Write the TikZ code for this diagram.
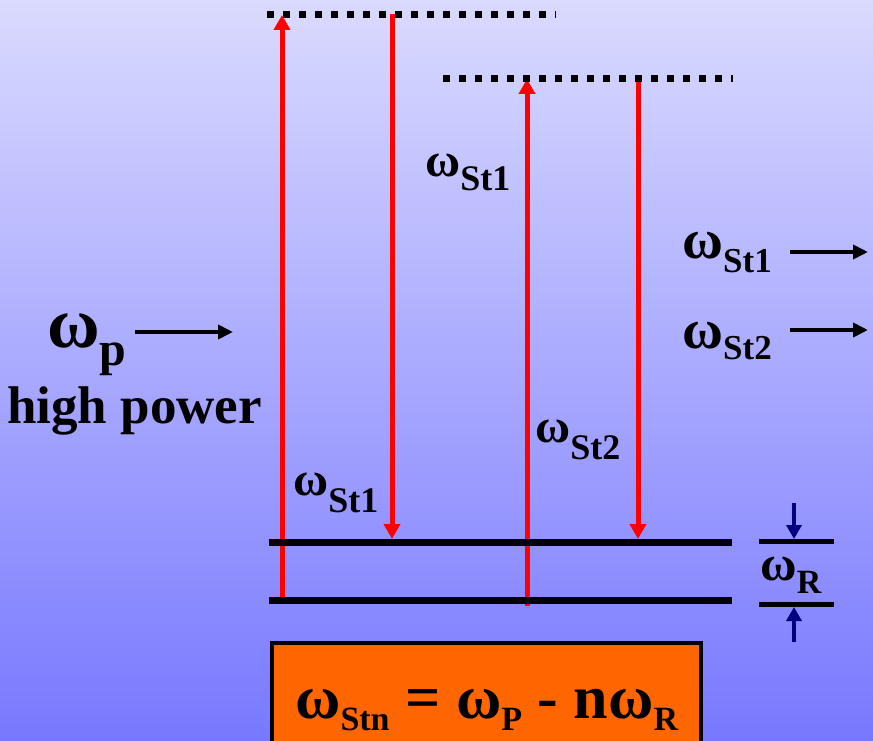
\documentclass[tikz,border=0pt]{standalone}
\usepackage{fontspec}
\setmainfont{Liberation Serif}
\usetikzlibrary{arrows.meta}
\definecolor{bgtop}{RGB}{218,218,255}
\definecolor{bgbot}{RGB}{120,120,255}
\definecolor{boxorange}{RGB}{255,102,0}
\definecolor{arrownavy}{RGB}{0,0,128}
\newcommand{\wsub}[4]{{\fontsize{#1}{#1}\selectfont ω}\raisebox{-#4pt}{\fontsize{#2}{#2}\selectfont #3}}
\begin{document}
\begin{tikzpicture}[x=1pt,y=-1pt,
  level/.style={line width=7pt, black},
  virt/.style={line width=7pt, black, dash pattern=on 7pt off 9pt},
  photon/.style={red, line width=5pt, -{Triangle[width=16pt,length=15pt]}},
  beam/.style={black, line width=4pt, -{Triangle[width=14pt,length=15pt]}},
  marker/.style={arrownavy, line width=3.5pt, -{Triangle[width=15pt,length=14pt]}},
  lab/.style={anchor=base west, inner sep=0pt, font=\bfseries}]
\shade[top color=bgtop, bottom color=bgbot] (0,0) rectangle (873,741);
\useasboundingbox (0,0) rectangle (873,741);
% coordinates
\coordinate (v1L) at (267,14.5); \coordinate (v1R) at (556,14.5);
\coordinate (v2L) at (443,78.5); \coordinate (v2R) at (733,78.5);
\coordinate (g1L) at (269,542); \coordinate (g1R) at (732,542);
\coordinate (g0L) at (269,600); \coordinate (g0R) at (732,600);
\coordinate (p1s) at (282,597); \coordinate (p1e) at (282,15);
\coordinate (s1s) at (392,14); \coordinate (s1e) at (392,539);
\coordinate (p2s) at (527,606); \coordinate (p2e) at (527,79);
\coordinate (s2s) at (638,78); \coordinate (s2e) at (638,539);
% photon arrows
\draw[photon] (p1s) -- (p1e);
\draw[photon] (s1s) -- (s1e);
\draw[photon] (p2s) -- (p2e);
\draw[photon] (s2s) -- (s2e);
% levels
\draw[level] (g1L) -- (g1R);
\draw[level] (g0L) -- (g0R);
\draw[virt] (v1L) -- (v1R);
\draw[virt] (v2L) -- (v2R);
% omega_R marker
\coordinate (mtL) at (759,541); \coordinate (mtR) at (834,541);
\coordinate (mbL) at (759,604); \coordinate (mbR) at (834,604);
\draw[line width=5pt] (mtL) -- (mtR);
\draw[line width=5pt] (mbL) -- (mbR);
\coordinate (mas) at (794,503); \coordinate (mae) at (794,539);
\coordinate (mbs) at (794,642); \coordinate (mbe) at (794,607);
\draw[marker] (mas) -- (mae);
\draw[marker] (mbs) -- (mbe);
\node[lab] (wr) at (760,580) {\wsub{50}{34}{R}{13}};
% labels
\node[lab] (l1) at (425,176) {\wsub{48}{36}{St1}{14}};
\node[lab] (l2) at (293,495) {\wsub{48}{36}{St1}{17}};
\node[lab] (l3) at (535,442) {\wsub{48}{36}{St2}{17}};
% outgoing beams
\node[lab] (r1) at (682,258) {\wsub{56}{35}{St1}{14}};
\node[lab] (r2) at (682,348) {\wsub{56}{35}{St2}{11}};
\coordinate (b1s) at (790,252); \coordinate (b1e) at (868,252);
\coordinate (b2s) at (790,330); \coordinate (b2e) at (868,330);
\draw[beam] (b1s) -- (b1e);
\draw[beam] (b2s) -- (b2e);
% pump
\node[lab] (pump) at (47,347) {\wsub{72}{48}{p}{18}};
\coordinate (b0s) at (135,332); \coordinate (b0e) at (233,332);
\draw[beam] (b0s) -- (b0e);
\node[lab] (hp) at (7,423) {\fontsize{53}{53}\selectfont high power};
% formula box
\draw[line width=4pt, fill=boxorange] (272,643) rectangle (701,760);
\node[lab] (eq) at (295,718) {\wsub{62}{34}{Stn}{12}\fontsize{62}{62}\selectfont{} = \wsub{62}{34}{P}{12}\fontsize{62}{62}\selectfont{} - n\wsub{62}{34}{R}{12}};
\end{tikzpicture}
\end{document}
